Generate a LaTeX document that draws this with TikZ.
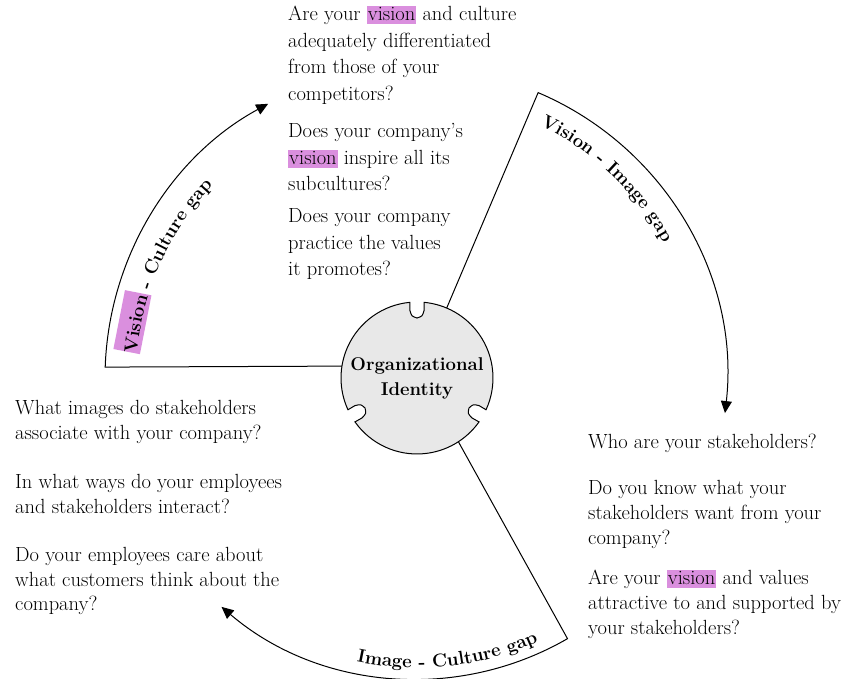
\documentclass[tikz,border=0pt]{standalone}
\usepackage{fontspec}
\usetikzlibrary{arrows.meta,calc,decorations.text}
\definecolor{hlc}{RGB}{218,143,222}
\definecolor{circfill}{RGB}{232,232,232}
\newcommand\hlw[1]{{\setlength{\fboxsep}{0pt}\colorbox{hlc}{\rule[-3.5pt]{0pt}{18pt}\hspace{1pt}#1\hspace{1pt}}}}
\newcommand\lblfont{\fontsize{18.6}{20}\selectfont\bfseries}
\tikzset{
  conn/.style={line width=1pt, draw=black},
  arr/.style={-{Triangle[length=12pt,width=11pt]}},
  qtop/.style={anchor=base west, inner sep=0pt, font=\fontsize{20.5}{26.5}\selectfont},
  qleft/.style={anchor=base west, inner sep=0pt, font=\fontsize{20.5}{24.5}\selectfont},
  qright/.style={anchor=base west, inner sep=0pt, font=\fontsize{20.5}{25}\selectfont},
  hlbox/.style={fill=hlc, inner sep=0pt, minimum width=60pt, minimum height=27pt},
  arclabel/.style={decorate, decoration={text along path, text align=left, text={|\lblfont|#1}}}
}
\begin{document}
\begin{tikzpicture}[x=1pt,y=1pt]
\useasboundingbox (0,0) rectangle (863,679);
\coordinate (O) at (417,301);

% notched central disc
\begin{scope}[shift={(O)}]
\filldraw[fill=circfill, line width=1pt]
  (95.3:76) arc[start angle=95.3, end angle=204.7, radius=76]
  -- (204:68) .. controls (205:62) .. (210:60) .. controls (215:62) .. (216:68) -- (215.3:76)
  arc[start angle=215.3, end angle=324.7, radius=76]
  -- (324:68) .. controls (325:62) .. (330:60) .. controls (335:62) .. (336:68) -- (335.3:76)
  arc[start angle=335.3, end angle=444.7, radius=76]
  -- (444:68) .. controls (445:62) .. (450:60) .. controls (455:62) .. (456:68) -- cycle;
\end{scope}
\node[circle, minimum size=152pt, inner sep=0pt, outer sep=0pt, align=center,
      font=\fontsize{18.5}{25}\selectfont\bfseries] (oi) at (O) {Organizational\\Identity};

\coordinate (L) at ($(O)+(178:312)$);
\coordinate (U) at ($(O)+(67:310)$);
\coordinate (D) at ($(O)+(-60:301)$);

\draw[conn, arr] (oi.171.76) -- (L) arc[start angle=178, end angle=118.5, radius=312];
\draw[conn, arr] (oi.67) -- (U) arc[start angle=67, end angle=-6.5, radius=310];
\draw[conn, arr] (oi.-57) -- (D) arc[start angle=-60, end angle=-130.5, radius=301];

% arc labels
\node[hlbox, rotate=78.9] (hv) at ($(O)+(168.9:290)$) {};
\path[arclabel={Vision - Culture gap}] ($(O)+(175:281)$) arc[start angle=175, end angle=115, radius=281];
\path[arclabel={Vision - Image gap}] ($(O)+(64:281)$) arc[start angle=64, end angle=5, radius=281];
\path[arclabel={Image - Culture gap}] ($(O)+(-102:290)$) arc[start angle=-102, end angle=-40, radius=290];

% top questions
\node[qtop] (t1) at (288,658) {\begin{tabular}[t]{@{}l@{}}Are your \hlw{vision} and culture\\adequately differentiated\\from those of your\\competitors?\end{tabular}};
\node[qtop] (t2) at (288,541) {\begin{tabular}[t]{@{}l@{}}Does your company’s\\\hlw{vision} inspire all its\\subcultures?\end{tabular}};
\node[qtop] (t3) at (288,456) {\begin{tabular}[t]{@{}l@{}}Does your company\\practice the values\\it promotes?\end{tabular}};

% left questions
\node[qleft] (l1) at (15,264) {\begin{tabular}[t]{@{}l@{}}What images do stakeholders\\associate with your company?\end{tabular}};
\node[qleft] (l2) at (15,190) {\begin{tabular}[t]{@{}l@{}}In what ways do your employees\\and stakeholders interact?\end{tabular}};
\node[qleft] (l3) at (15,117) {\begin{tabular}[t]{@{}l@{}}Do your employees care about\\what customers think about the\\company?\end{tabular}};

% right questions
\node[qright] (r1) at (588,230) {\begin{tabular}[t]{@{}l@{}}Who are your stakeholders?\end{tabular}};
\node[qright] (r2) at (588,184) {\begin{tabular}[t]{@{}l@{}}Do you know what your\\stakeholders want from your\\company?\end{tabular}};
\node[qright] (r3) at (588,94) {\begin{tabular}[t]{@{}l@{}}Are your \hlw{vision} and values\\attractive to and supported by\\your stakeholders?\end{tabular}};
\end{tikzpicture}
\end{document}
